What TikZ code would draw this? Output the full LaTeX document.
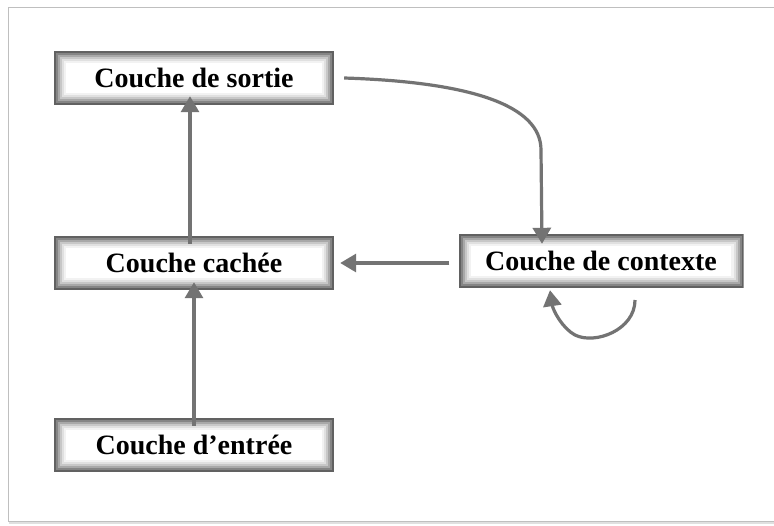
\documentclass[tikz,border=0pt]{standalone}
\usepackage{fontspec}
\setmainfont{Liberation Serif}
\usetikzlibrary{arrows.meta}
\tikzset{
  layer/.style={minimum width=280pt, minimum height=54pt, inner sep=0pt, fill=white,
    font=\bfseries\fontsize{28}{32}\selectfont,
    path picture={
      \foreach \i/\c in {0/62,2/48,4/34,6/22,8/12,10/5}
        \draw[black!\c, line width=2.2pt]
          ([shift={(\i pt+1.1pt,-\i pt-1.1pt)}]path picture bounding box.north west)
          rectangle ([shift={(-\i pt-1.1pt,\i pt+1.1pt)}]path picture bounding box.south east);
    }},
  conn/.style={draw=black!55, line width=3.2pt, -{Triangle[length=16pt,width=18pt]}}
}
\begin{document}
\begin{tikzpicture}[x=1pt,y=-1pt]
\useasboundingbox (0,0) rectangle (774,525);
\fill[black!12] (9,9) rectangle (776,524);
\draw[black!25, fill=white, line width=0.8pt] (8,7) rectangle (778,521);
\node[layer] (sortie) at (194,78) {Couche de sortie};
\node[layer] (cachee) at (194,263) {Couche cachée};
\node[layer, minimum width=285pt] (contexte) at (601,261) {Couche de contexte};
\node[layer] (entree) at (194,445) {Couche d’entrée};
\coordinate (loopstart) at (635,300);
\draw[conn] ([yshift=-8pt]entree.north) -- ([yshift=8pt]cachee.south);
\draw[conn] ([xshift=-4pt,yshift=-8pt]cachee.north) -- ([xshift=-4pt,yshift=9pt]sortie.south);
\draw[conn] ([xshift=-9pt]contexte.west |- cachee.east) -- ([xshift=6pt]cachee.east);
\draw[conn] ([xshift=10pt,yshift=0pt]sortie.east) .. controls (470,82) and (541,105) .. (541,150) -- ([xshift=-59pt,yshift=-10pt]contexte.north);
\draw[conn] (loopstart) .. controls (635,330) and (595,345) .. (575,335) .. controls (562,328) and (553,310) .. ([xshift=-51pt,yshift=-2pt]contexte.south);
\end{tikzpicture}
\end{document}
